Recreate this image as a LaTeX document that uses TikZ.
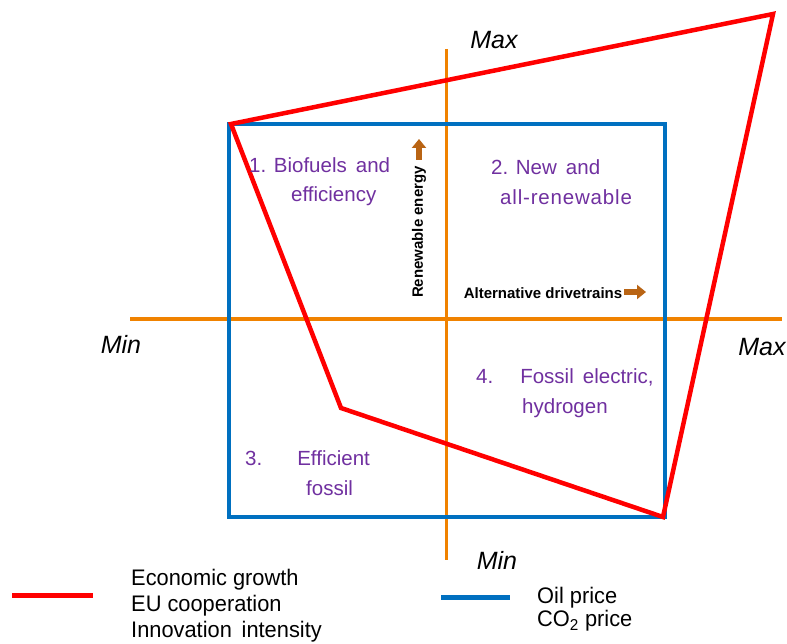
\documentclass[tikz,border=0pt]{standalone}
\usepackage{fontspec}
\setmainfont{Liberation Sans}
\newfontfamily\narrowfont[FakeStretch=0.97]{Liberation Sans}
\newfontfamily\widefont[LetterSpace=4]{Liberation Sans}
\usetikzlibrary{arrows.meta}
\definecolor{axisorange}{RGB}{240,130,0}
\definecolor{framebl}{RGB}{0,112,192}
\definecolor{scenred}{RGB}{255,0,0}
\definecolor{quadpurple}{RGB}{112,48,160}
\definecolor{arrowbrown}{RGB}{185,100,20}
\tikzset{
  axisline/.style={draw=axisorange,line width=3pt},
  framebox/.style={draw=framebl,line width=4.5pt,line join=miter},
  redpath/.style={draw=scenred,line width=4.5pt,line join=miter},
  endlabel/.style={font=\fontsize{25}{29}\selectfont\itshape,inner sep=0pt},
  quadtext/.style={font=\fontsize{20.5}{24}\selectfont,text=quadpurple,inner sep=0pt,anchor=west,text height=14.5pt,text depth=4.5pt},
  axistag/.style={font=\fontsize{15}{18}\selectfont\bfseries,inner sep=0pt},
  legtext/.style={font=\narrowfont\fontsize{22.5}{26}\selectfont,inner sep=0pt,anchor=west,text height=16pt,text depth=5pt},
  blockarrow/.style={draw=arrowbrown,line width=5.5pt,-{Triangle[length=9pt,width=14pt]}}
}
\begin{document}
\begin{tikzpicture}[x=1pt,y=-1pt]
\useasboundingbox (0,0) rectangle (787,644);
\fill[white] (0,0) rectangle (787,644);

% axes
\coordinate (hL) at (130,319);
\coordinate (hR) at (782,319);
\coordinate (vT) at (446,49);
\coordinate (vB) at (446,560);
\draw[axisline] (hL) -- (hR);
\draw[axisline] (vT) -- (vB);

% scenario frame
\coordinate (bTL) at (229,124);
\coordinate (bTR) at (665,124);
\coordinate (bBR) at (665,517);
\coordinate (bBL) at (229,517);
\draw[framebox] (bTL) -- (bTR) -- (bBR) -- (bBL) -- cycle;

% scenario polygon
\coordinate (rA) at (231,124);
\coordinate (rB) at (773,14);
\coordinate (rC) at (663,517);
\coordinate (rD) at (341,408);
\draw[redpath] (rA) -- (rB) -- (rC) -- (rD) -- cycle;

% axis end labels
\node[endlabel] (maxT) at (494,40) {Max};
\node[endlabel] (minL) at (121,344) {Min};
\node[endlabel] (maxR) at (762,347) {Max};
\node[endlabel] (minB) at (497,560) {Min};

% quadrant names
\node[quadtext] (q1a) at (249,168) {1. Biofuels\, and};
\node[quadtext] (q1b) at (291,197) {efficiency};
\node[quadtext] (q2a) at (491,170) {2. New\, and};
\node[quadtext,font=\widefont\fontsize{20.5}{24}\selectfont] (q2b) at (500,200) {all-renewable};
\node[quadtext] (q3a) at (245,460) {3.\hspace{35pt}Efficient};
\node[quadtext] (q3b) at (306,490) {fossil};
\node[quadtext] (q4a) at (476,378) {4.\hspace{27pt}Fossil\, electric,};
\node[quadtext] (q4b) at (522,408) {hydrogen};

% axis tags with direction arrows
\node[axistag,rotate=90] (ren) at (419,232) {Renewable energy};
\coordinate (ru1) at (419,160);
\coordinate (ru2) at (419,139);
\draw[blockarrow] (ru1) -- (ru2);
\node[axistag] (alt) at (543,293) {Alternative drivetrains};
\coordinate (ar1) at (624,292);
\coordinate (ar2) at (646,292);
\draw[blockarrow] (ar1) -- (ar2);

% legend
\coordinate (lr1) at (12,595);
\coordinate (lr2) at (93,595);
\draw[draw=scenred,line width=5pt] (lr1) -- (lr2);
\node[legtext] (lg1) at (131,580) {Economic growth};
\node[legtext] (lg2) at (131,606) {EU cooperation};
\node[legtext] (lg3) at (131,632) {Innovation\, intensity};
\coordinate (lb1) at (441,597);
\coordinate (lb2) at (510,597);
\draw[draw=framebl,line width=5pt] (lb1) -- (lb2);
\node[legtext] (lg4) at (537,598) {Oil price};
\node[legtext] (lg5) at (537,621) {CO\textsubscript{2} price};
\end{tikzpicture}
\end{document}
